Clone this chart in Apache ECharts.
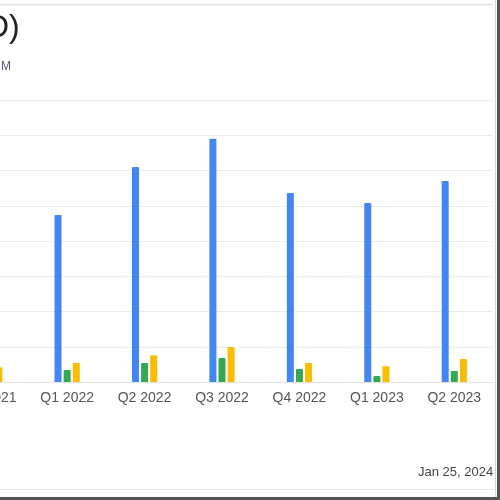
<!DOCTYPE html>
<html>
<head>
<meta charset="utf-8">
<script src="https://cdn.jsdelivr.net/npm/echarts@6/dist/echarts.min.js"></script>
<style>
  html, body { margin: 0; padding: 0; background: #fff; overflow: hidden; width: 500px; height: 500px; position: relative; }
  /* the chart is wider than the window and shifted left, the first quarter is cut off like in the picture */
  #main { position: absolute; left: -49px; top: 0; width: 549px; height: 500px; }
</style>
</head>
<body>
<div id="main"></div>
<script>
// quarters, the first one is mostly cut off on the left
const quarters = ['Q4 2021', 'Q1 2022', 'Q2 2022', 'Q3 2022', 'Q4 2022', 'Q1 2023', 'Q2 2023'];
const blueValues = [5.5, 4.74, 6.1, 6.9, 5.36, 5.08, 5.7];
const greenValues = [0.5, 0.34, 0.54, 0.68, 0.37, 0.17, 0.31];
const yellowValues = [0.42, 0.54, 0.76, 0.99, 0.54, 0.45, 0.65];

const OFF = 49; // page x -> chart x

const chart = echarts.init(document.getElementById('main'));

function barSeries(name, data, color) {
    return {
        name: name,
        type: 'bar',
        data: data,
        barWidth: 7,
        barGap: '30%',
        itemStyle: { color: color, borderRadius: [1, 1, 0, 0] }
    };
}

const option = {
    animation: false,
    grid: { left: 0, right: 549 - (493 + OFF), top: 100, bottom: 118, containLabel: false },
    xAxis: {
        type: 'category',
        data: quarters,
        axisLine: { show: true, lineStyle: { color: '#e4e4e4' } },
        axisTick: { show: false },
        axisLabel: {
            color: '#555',
            fontSize: 14,
            fontFamily: 'Liberation Sans',
            margin: 9,
            interval: 0
        }
    },
    yAxis: {
        type: 'value',
        min: 0,
        max: 8,
        interval: 1,
        axisLabel: { show: false },
        axisLine: { show: false },
        axisTick: { show: false },
        splitLine: { lineStyle: { color: '#ececec', width: 1 } }
    },
    series: [
        barSeries('Blue', blueValues, '#4285F4'),
        barSeries('Green', greenValues, '#34A853'),
        barSeries('Yellow', yellowValues, '#FBBC04')
    ],
    graphic: [
        { type: 'line', shape: { x1: OFF, y1: 4.5, x2: OFF + 493, y2: 4.5 }, style: { stroke: '#e6e6e6', lineWidth: 2 } },
        { type: 'line', shape: { x1: OFF, y1: 489.5, x2: OFF + 495, y2: 489.5 }, style: { stroke: '#e6e6e6', lineWidth: 1 } },
        { type: 'text', x: OFF - 14, y: 12, style: { text: 'D)', font: '32px "Liberation Sans"', fill: '#222' } },
        { type: 'text', x: OFF + 1, y: 61, style: { text: 'M', font: '12px "Liberation Sans"', fill: '#55557a' } },
        { type: 'text', x: OFF + 418, y: 466, style: { text: 'Jan 25, 2024', font: '13px "Liberation Sans"', fill: '#444' } },
        { type: 'rect', z: 100, shape: { x: OFF + 495, y: 0, width: 5, height: 500 }, style: { fill: '#fff' } },
        { type: 'line', z: 101, shape: { x1: OFF + 495.5, y1: 0, x2: OFF + 495.5, y2: 500 }, style: { stroke: '#d6d6d6', lineWidth: 1 } },
        { type: 'rect', z: 101, shape: { x: OFF + 497, y: 0, width: 3, height: 500 }, style: { fill: '#555' } },
        { type: 'rect', z: 101, shape: { x: OFF, y: 497, width: 500, height: 3 }, style: { fill: '#555' } }
    ]
};

chart.setOption(option);
</script>
</body>
</html>
